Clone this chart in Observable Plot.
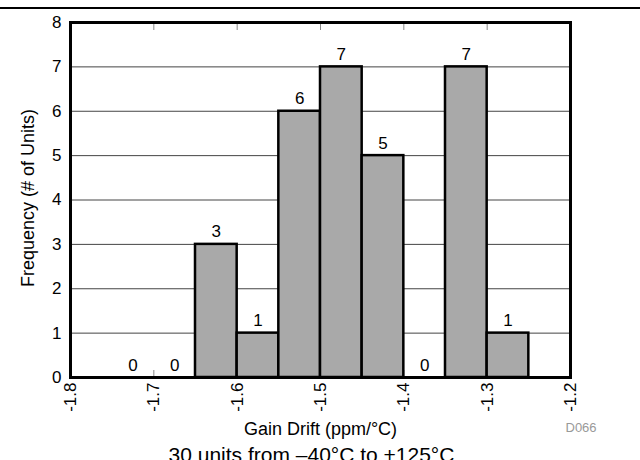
<!DOCTYPE html>
<html><head><meta charset="utf-8">
<script src="https://cdn.jsdelivr.net/npm/d3@7"></script>
<script src="https://cdn.jsdelivr.net/npm/@observablehq/plot@0.6"></script>
<style>
body{margin:0;background:#fff;}
#wrap{position:relative;width:640px;height:460px;overflow:hidden;background:#fff;}
#topline{position:absolute;left:0;top:7px;width:640px;height:2px;background:#000;}
#wrap svg{position:absolute;left:0;top:0;}
</style></head><body>
<div id="wrap"><div id="topline"></div></div>
<script>
const binStart = [-1.75, -1.70, -1.65, -1.60, -1.55, -1.50, -1.45, -1.40, -1.35, -1.30];
const binEnd   = [-1.70, -1.65, -1.60, -1.55, -1.50, -1.45, -1.40, -1.35, -1.30, -1.25];
const counts   = [0, 0, 3, 1, 6, 7, 5, 0, 7, 1];
const xTicks = [-1.8, -1.7, -1.6, -1.5, -1.4, -1.3, -1.2];
const yTicks = [0, 1, 2, 3, 4, 5, 6, 7, 8];
const xLabel = "Gain Drift (ppm/°C)";
const yLabel = "Frequency (# of Units)";
const caption = "30 units from –40°C to +125°C";
const figureId = "D066";

const bins = binStart.map((x1, i) => ({x1, x2: binEnd[i], count: counts[i]}));
const font = "'Liberation Sans', Arial, sans-serif";

const chart = Plot.plot({
  width: 640, height: 460,
  marginLeft: 70, marginRight: 70, marginTop: 22, marginBottom: 83,
  style: {fontFamily: font, fontSize: "16px", background: "transparent", overflow: "visible", color: "#000"},
  x: {domain: [-1.8, -1.2]},
  y: {domain: [0, 8]},
  marks: [
    Plot.gridY(yTicks.slice(1, -1), {stroke: "#444", strokeOpacity: 1, strokeWidth: 1}),
    Plot.axisX(xTicks, {anchor: "top", tickSize: -7, stroke: "#888", tickFormat: () => "", label: null}),
    Plot.axisX(xTicks, {anchor: "bottom", tickSize: -7, stroke: "#888", tickFormat: () => "", label: null}),
    Plot.rectY(bins.filter(d => d.count > 0), {x1: "x1", x2: "x2", y1: 0, y2: "count", fill: "#a9a9a9", stroke: "#000", strokeWidth: 2.5}),
    Plot.text(bins, {x: d => (d.x1 + d.x2) / 2, y: "count", text: d => String(d.count), lineAnchor: "bottom", dy: -7, fontSize: 17, fill: "#000"}),
    Plot.frame({stroke: "#000", strokeWidth: 3}),
    Plot.axisX(xTicks, {anchor: "bottom", tickSize: 0, tickPadding: 5, tickRotate: -90, tickFormat: d => d.toFixed(1), label: null, fontSize: 17}),
    Plot.axisY(yTicks, {anchor: "left", tickSize: 0, tickPadding: 9, tickFormat: d => String(d), label: null, fontSize: 17}),
    Plot.text([yLabel], {frameAnchor: "left", textAnchor: "middle", rotate: -90, dx: -42, dy: -2, fontSize: 18, fill: "#000"}),
    Plot.text([xLabel], {frameAnchor: "bottom", dy: 57, fontSize: 18, fill: "#000"}),
    Plot.text([figureId], {frameAnchor: "bottom-right", dx: -5, dy: 54, textAnchor: "start", fill: "#999", fontSize: 13}),
    Plot.text([caption], {frameAnchor: "bottom", dx: -9, dy: 70, lineAnchor: "top", fontSize: 21, fill: "#000"})
  ]
});
document.getElementById("wrap").appendChild(chart);
</script>
</body></html>
